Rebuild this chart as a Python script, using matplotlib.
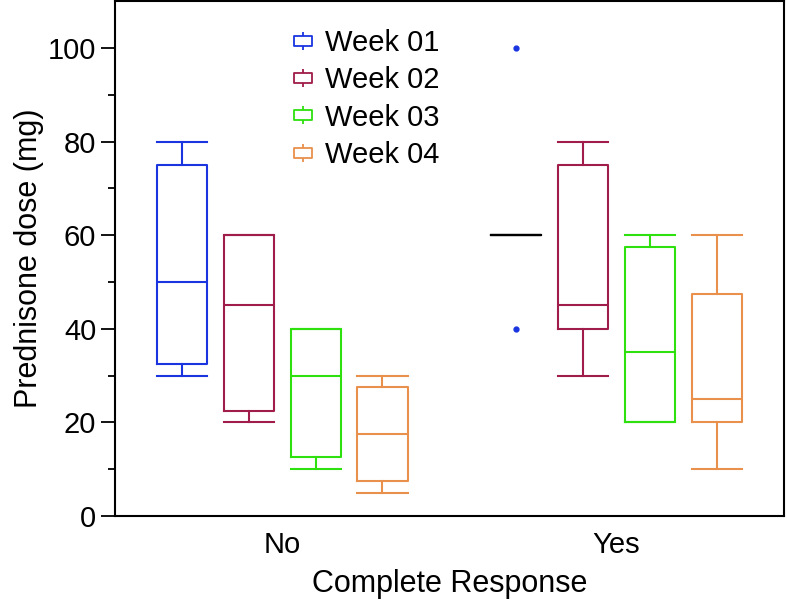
import numpy as np
import matplotlib
matplotlib.use('Agg')
import matplotlib.pyplot as plt
from matplotlib.path import Path
from matplotlib.lines import Line2D

plt.rcParams['font.family'] = ['Liberation Sans', 'DejaVu Sans']

# box stats (mg)
groups = ['No', 'Yes']
weeks = ['Week 01', 'Week 02', 'Week 03', 'Week 04']
colors = ['#1a35e0', '#a01c4a', '#2ee00e', '#e8904c']

whislo_no = [30, 20, 10, 5]
q1_no = [32.5, 22.5, 12.5, 7.5]
med_no = [50, 45, 30, 17.5]
q3_no = [75, 60, 40, 27.5]
whishi_no = [80, 60, 40, 30]

whislo_yes = [60, 30, 20, 10]
q1_yes = [60, 40, 20, 20]
med_yes = [60, 45, 35, 25]
q3_yes = [60, 75, 57.5, 47.5]
whishi_yes = [60, 80, 60, 60]

fliers_yes = [[100, 40], [], [], []]

fig = plt.figure(figsize=(7.87, 6.02), dpi=100)
ax = fig.add_axes([0.146, 0.143, 0.85, 0.855])

offsets = [-0.3, -0.1, 0.1, 0.3]
bw = 0.15

for g, (lo, q1, med, q3, hi) in enumerate([
        (whislo_no, q1_no, med_no, q3_no, whishi_no),
        (whislo_yes, q1_yes, med_yes, q3_yes, whishi_yes)]):
    for i in range(4):
        st = {'whislo': lo[i], 'q1': q1[i], 'med': med[i], 'q3': q3[i],
              'whishi': hi[i], 'fliers': fliers_yes[i] if g == 1 else []}
        c = colors[i]
        # the Yes / Week 01 group collapses to one line, drawn black
        lc = 'black' if (g == 1 and i == 0) else c
        ax.bxp([st], positions=[g + offsets[i]], widths=bw, capwidths=bw,
               showfliers=True,
               boxprops=dict(color=lc, linewidth=1.5),
               whiskerprops=dict(color=lc, linewidth=1.5),
               capprops=dict(color=lc, linewidth=1.5),
               medianprops=dict(color=lc, linewidth=1.5),
               flierprops=dict(marker='o', markersize=3.5, markerfacecolor=c,
                               markeredgecolor=c, linestyle='none'))

ax.set_xlim(-0.5, 1.5)
ax.set_ylim(0, 110)
ax.set_xticks([0, 1])
ax.set_xticklabels(groups)
ax.set_yticks(np.arange(0, 101, 20))
ax.set_yticks(np.arange(10, 101, 20), minor=True)
ax.tick_params(axis='x', length=0, pad=11, labelsize=21)
ax.tick_params(axis='y', which='major', length=10, width=1.3, labelsize=21, direction='out')
ax.tick_params(axis='y', which='minor', length=5, width=1.3, direction='out')
for s in ax.spines.values():
    s.set_linewidth(1.5)

ax.set_xlabel('Complete Response', fontsize=22, labelpad=7)
ax.set_ylabel('Prednisone dose (mg)', fontsize=22, labelpad=3)

# legend icon: small box with whisker stubs
icon = Path([(-1, -0.5), (1, -0.5), (1, 0.5), (-1, 0.5), (-1, -0.5),
             (0, 0.5), (0, 1), (0, -0.5), (0, -1)],
            [Path.MOVETO, Path.LINETO, Path.LINETO, Path.LINETO, Path.CLOSEPOLY,
             Path.MOVETO, Path.LINETO, Path.MOVETO, Path.LINETO])
handles = [Line2D([], [], linestyle='none', marker=icon, markersize=13,
                  markerfacecolor='none', markeredgecolor=c, markeredgewidth=1.3)
           for c in colors]
ax.legend(handles, weeks, loc='upper left', bbox_to_anchor=(0.227, 0.997),
          frameon=False, fontsize=21, handlelength=0.7, handletextpad=0.4,
          labelspacing=0.32)

fig.savefig('out.png', dpi=100)
